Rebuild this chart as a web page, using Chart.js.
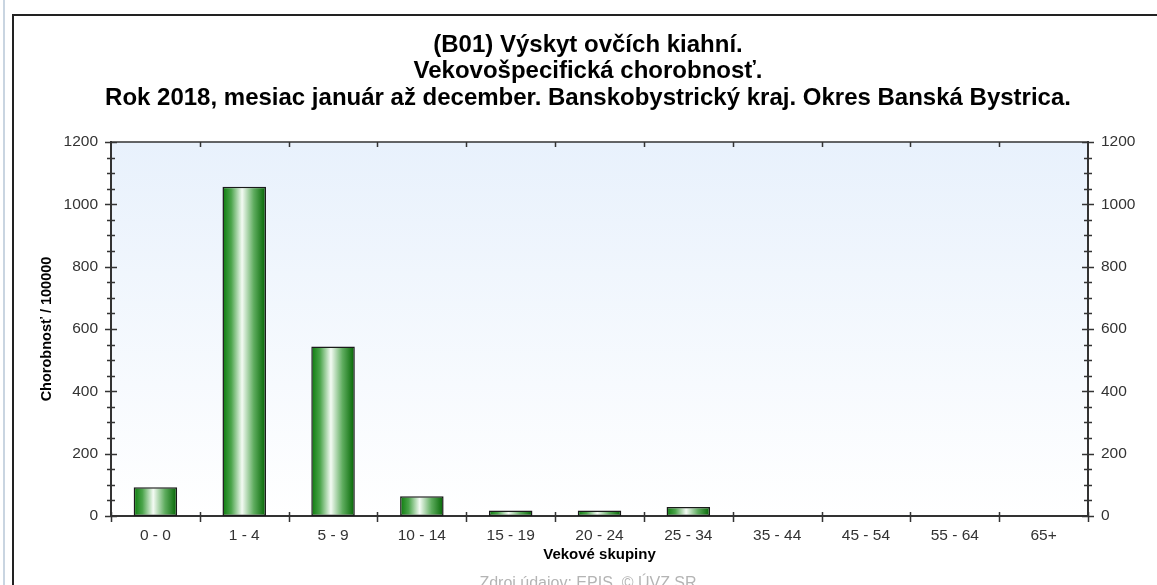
<!DOCTYPE html>
<html>
<head>
<meta charset="utf-8">
<script src="https://cdn.jsdelivr.net/npm/chart.js@4/dist/chart.umd.min.js"></script>
<style>
    html, body { margin: 0; padding: 0; background: #fff; overflow: hidden; width: 1157px; height: 585px; position: relative; }
    #linka { position: absolute; left: 3px; top: 0; width: 2px; height: 585px; background: #c9d5e1; }
    #ram { position: absolute; left: 12px; top: 14px; width: 1200px; height: 700px; border: 2px solid #222; }
    #graf { position: absolute; left: 0; top: 0; }
</style>
</head>
<body>
<div id="linka"></div>
<div id="ram"></div>
<canvas id="graf" width="1176" height="600"></canvas>
<script>
    // DATA
    const kategorie = ["0 - 0", "1 - 4", "5 - 9", "10 - 14", "15 - 19", "20 - 24", "25 - 34", "35 - 44", "45 - 54", "55 - 64", "65+"];
    const chorobnost = [92, 1056, 544, 63, 18, 18, 29, 0, 0, 0, 0];
    const osY = { min: 0, max: 1200, krok: 200, malyKrok: 50 };
    const nadpis = [
        "(B01) Výskyt ovčích kiahní.",
        "Vekovošpecifická chorobnosť.",
        "Rok 2018, mesiac január až december. Banskobystrický kraj. Okres Banská Bystrica."
    ];
    const nazovY = "Chorobnosť / 100000";
    const nazovX = "Vekové skupiny";
    const zdroj = "Zdroj údajov: EPIS, © ÚVZ SR";

    const pismo = '"Liberation Sans", Arial, sans-serif';
    const farbaOs = "#333";

    // gradient valca pre kazdy stlpec
    function farbaStlpca(c) {
        const xs = c.chart.scales.x;
        if (!xs || xs.width === undefined) return "#2a8a2a";
        const stred = xs.getPixelForValue(c.dataIndex);
        const sirka = (xs.width / kategorie.length) * 0.49;
        const g = c.chart.ctx.createLinearGradient(stred - sirka / 2, 0, stred + sirka / 2, 0);
        g.addColorStop(0, "#0b7a0b");
        g.addColorStop(0.2, "#4aa44a");
        g.addColorStop(0.45, "#f4fbf4");
        g.addColorStop(0.72, "#5eac5e");
        g.addColorStop(1, "#006400");
        return g;
    }

    // pozadie a ciarky na osiach
    const dekoracia = {
        id: "dekoracia",
        beforeDraw(chart) {
            const { ctx, chartArea: a } = chart;
            const g = ctx.createLinearGradient(0, a.top, 0, a.bottom);
            g.addColorStop(0, "#e8f1fc");
            g.addColorStop(1, "#ffffff");
            ctx.save();
            ctx.fillStyle = g;
            ctx.fillRect(a.left, a.top, a.right - a.left, a.bottom - a.top);
            ctx.restore();
        },
        afterDraw(chart) {
            const { ctx, chartArea: a, scales } = chart;
            const ys = scales.y, xs = scales.x;
            ctx.save();
            ctx.strokeStyle = farbaOs;
            ctx.lineWidth = 1.5;
            ctx.beginPath();
            // horna hrana
            ctx.moveTo(a.left, a.top);
            ctx.lineTo(a.right, a.top);
            // y ciarky vlavo a vpravo
            for (let v = osY.min; v <= osY.max; v += osY.malyKrok) {
                const y = Math.round(ys.getPixelForValue(v)) + 0.5;
                const d = v % osY.krok === 0 ? 6 : 4;
                ctx.moveTo(a.left - d, y); ctx.lineTo(a.left + d, y);
                ctx.moveTo(a.right - d, y); ctx.lineTo(a.right + d, y);
            }
            // x ciarky na hraniciach kategorii
            for (let i = 0; i <= kategorie.length; i++) {
                let x;
                if (i === 0) x = a.left;
                else if (i === kategorie.length) x = a.right;
                else x = (xs.getPixelForValue(i - 1) + xs.getPixelForValue(i)) / 2;
                x = Math.round(x) + 0.5;
                ctx.moveTo(x, a.bottom - 4); ctx.lineTo(x, a.bottom + 6);
                if (i > 0 && i < kategorie.length) {
                    ctx.moveTo(x, a.top); ctx.lineTo(x, a.top + 5);
                }
            }
            ctx.stroke();
            ctx.restore();
        }
    };

    new Chart(document.getElementById("graf"), {
        type: "bar",
        data: {
            labels: kategorie,
            datasets: [{
                data: chorobnost,
                backgroundColor: farbaStlpca,
                borderColor: "#1a1a1a",
                borderWidth: c => (c.raw ? 1.5 : 0),
                borderSkipped: false,
                categoryPercentage: 1,
                barPercentage: 0.49,
                yAxisID: "y"
            }]
        },
        options: {
            responsive: false,
            animation: false,
            layout: { padding: 0 },
            plugins: {
                legend: { display: false },
                tooltip: { enabled: false },
                title: {
                    display: true,
                    text: nadpis,
                    color: "#000",
                    font: { family: pismo, size: 24, weight: "bold", lineHeight: 1.104 },
                    padding: { top: 31.75, bottom: 30.75 }
                },
                subtitle: {
                    display: true,
                    position: "bottom",
                    text: zdroj,
                    color: "#b4b4b4",
                    font: { family: pismo, size: 16, lineHeight: 1.2 },
                    padding: { top: 0, bottom: 6.4 }
                }
            },
            scales: {
                x: {
                    grid: { display: false, drawTicks: false },
                    border: { display: true, color: farbaOs, width: 2 },
                    ticks: { color: farbaOs, font: { family: pismo, size: 15.5 }, padding: 10, autoSkip: false, maxRotation: 0 },
                    title: { display: true, text: nazovX, color: "#000", font: { family: pismo, size: 15, weight: "bold", lineHeight: 1.2 }, padding: { top: 0, bottom: 10.4 } },
                    afterFit: s => { s.height = 58.4; }
                },
                y: {
                    position: "left",
                    min: osY.min, max: osY.max,
                    grid: { display: false, drawTicks: false },
                    border: { display: true, color: farbaOs, width: 2 },
                    ticks: { stepSize: osY.krok, color: farbaOs, font: { family: pismo, size: 15.5 }, padding: 13, callback: v => String(v) },
                    title: { display: true, text: nazovY, color: "#000", font: { family: pismo, size: 14.5, weight: "bold", lineHeight: 1.2 }, padding: { top: 38.3, bottom: 0 } },
                    afterFit: s => { s.width = 111; }
                },
                y2: {
                    position: "right",
                    min: osY.min, max: osY.max,
                    grid: { display: false, drawTicks: false },
                    border: { display: true, color: farbaOs, width: 2 },
                    ticks: { stepSize: osY.krok, color: farbaOs, font: { family: pismo, size: 15.5 }, padding: 13, callback: v => String(v) },
                    afterFit: s => { s.width = 88; }
                }
            }
        },
        plugins: [dekoracia]
    });
</script>
</body>
</html>
